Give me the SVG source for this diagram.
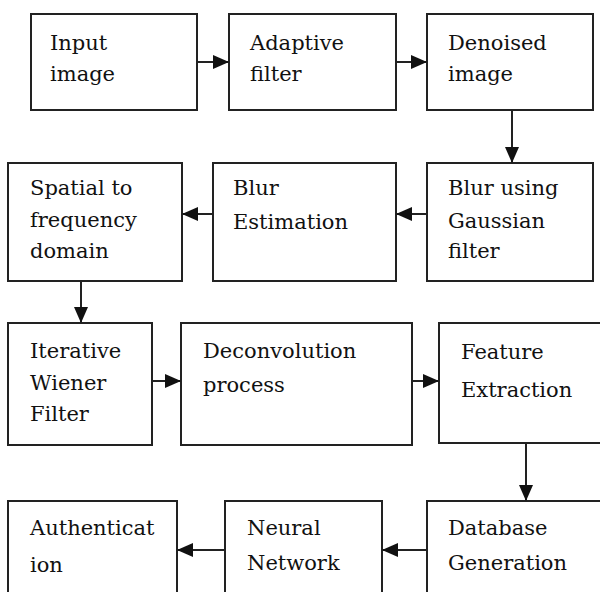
<svg xmlns="http://www.w3.org/2000/svg" width="600" height="592" viewBox="0 0 600 592">
<style>
.box{fill:#fff;stroke:#222;stroke-width:2}
.lbl{font-family:"DejaVu Serif","Liberation Serif",serif;font-size:21px;fill:#111}
.con{stroke:#222;stroke-width:2;fill:none}
</style>
<defs>
<marker id="ah" markerUnits="userSpaceOnUse" markerWidth="16" markerHeight="14" refX="16" refY="7" orient="auto">
<path d="M0,0 L16,7 L0,14 Z" fill="#111"/>
</marker>
</defs>
<rect width="600" height="592" fill="#fff"/>
<g id="n1"><rect class="box" x="31" y="14" width="166" height="96"/><text class="lbl" x="50" y="50">Input</text><text class="lbl" x="50" y="81">image</text></g>
<g id="n2"><rect class="box" x="229" y="14" width="167" height="96"/><text class="lbl" x="250" y="50">Adaptive</text><text class="lbl" x="250" y="81">filter</text></g>
<g id="n3"><rect class="box" x="427" y="14" width="166" height="96"/><text class="lbl" x="448" y="50">Denoised</text><text class="lbl" x="448" y="81">image</text></g>
<g id="n4"><rect class="box" x="8" y="163" width="174" height="118"/><text class="lbl" x="30" y="195">Spatial to</text><text class="lbl" x="30" y="227">frequency</text><text class="lbl" x="30" y="258">domain</text></g>
<g id="n5"><rect class="box" x="213" y="163" width="183" height="118"/><text class="lbl" x="233" y="195">Blur</text><text class="lbl" x="233" y="229">Estimation</text></g>
<g id="n6"><rect class="box" x="427" y="163" width="166" height="118"/><text class="lbl" x="448" y="195">Blur using</text><text class="lbl" x="448" y="228">Gaussian</text><text class="lbl" x="448" y="258">filter</text></g>
<g id="n7"><rect class="box" x="8" y="323" width="144" height="122"/><text class="lbl" x="30" y="358">Iterative</text><text class="lbl" x="30" y="390">Wiener</text><text class="lbl" x="30" y="421">Filter</text></g>
<g id="n8"><rect class="box" x="181" y="323" width="231" height="122"/><text class="lbl" x="203" y="358">Deconvolution</text><text class="lbl" x="203" y="392">process</text></g>
<g id="n9"><rect class="box" x="439" y="323" width="170" height="120"/><text class="lbl" x="461" y="359">Feature</text><text class="lbl" x="461" y="397">Extraction</text></g>
<g id="n10"><rect class="box" x="8" y="501" width="169" height="100"/><text class="lbl" x="30" y="535">Authenticat</text><text class="lbl" x="30" y="572">ion</text></g>
<g id="n11"><rect class="box" x="225" y="501" width="157" height="100"/><text class="lbl" x="247" y="535">Neural</text><text class="lbl" x="247" y="570">Network</text></g>
<g id="n12"><rect class="box" x="427" y="501" width="180" height="100"/><text class="lbl" x="448" y="535">Database</text><text class="lbl" x="448" y="570">Generation</text></g>
<g id="connectors">
<line class="con" x1="197" y1="62" x2="229" y2="62" marker-end="url(#ah)"/>
<line class="con" x1="396" y1="62" x2="427" y2="62" marker-end="url(#ah)"/>
<line class="con" x1="512" y1="110" x2="512" y2="163" marker-end="url(#ah)"/>
<line class="con" x1="427" y1="214" x2="396" y2="214" marker-end="url(#ah)"/>
<line class="con" x1="213" y1="214" x2="182" y2="214" marker-end="url(#ah)"/>
<line class="con" x1="81" y1="281" x2="81" y2="323" marker-end="url(#ah)"/>
<line class="con" x1="152" y1="381" x2="181" y2="381" marker-end="url(#ah)"/>
<line class="con" x1="412" y1="381" x2="439" y2="381" marker-end="url(#ah)"/>
<line class="con" x1="526" y1="443" x2="526" y2="501" marker-end="url(#ah)"/>
<line class="con" x1="427" y1="550" x2="382" y2="550" marker-end="url(#ah)"/>
<line class="con" x1="225" y1="550" x2="177" y2="550" marker-end="url(#ah)"/>
</g>
</svg>
